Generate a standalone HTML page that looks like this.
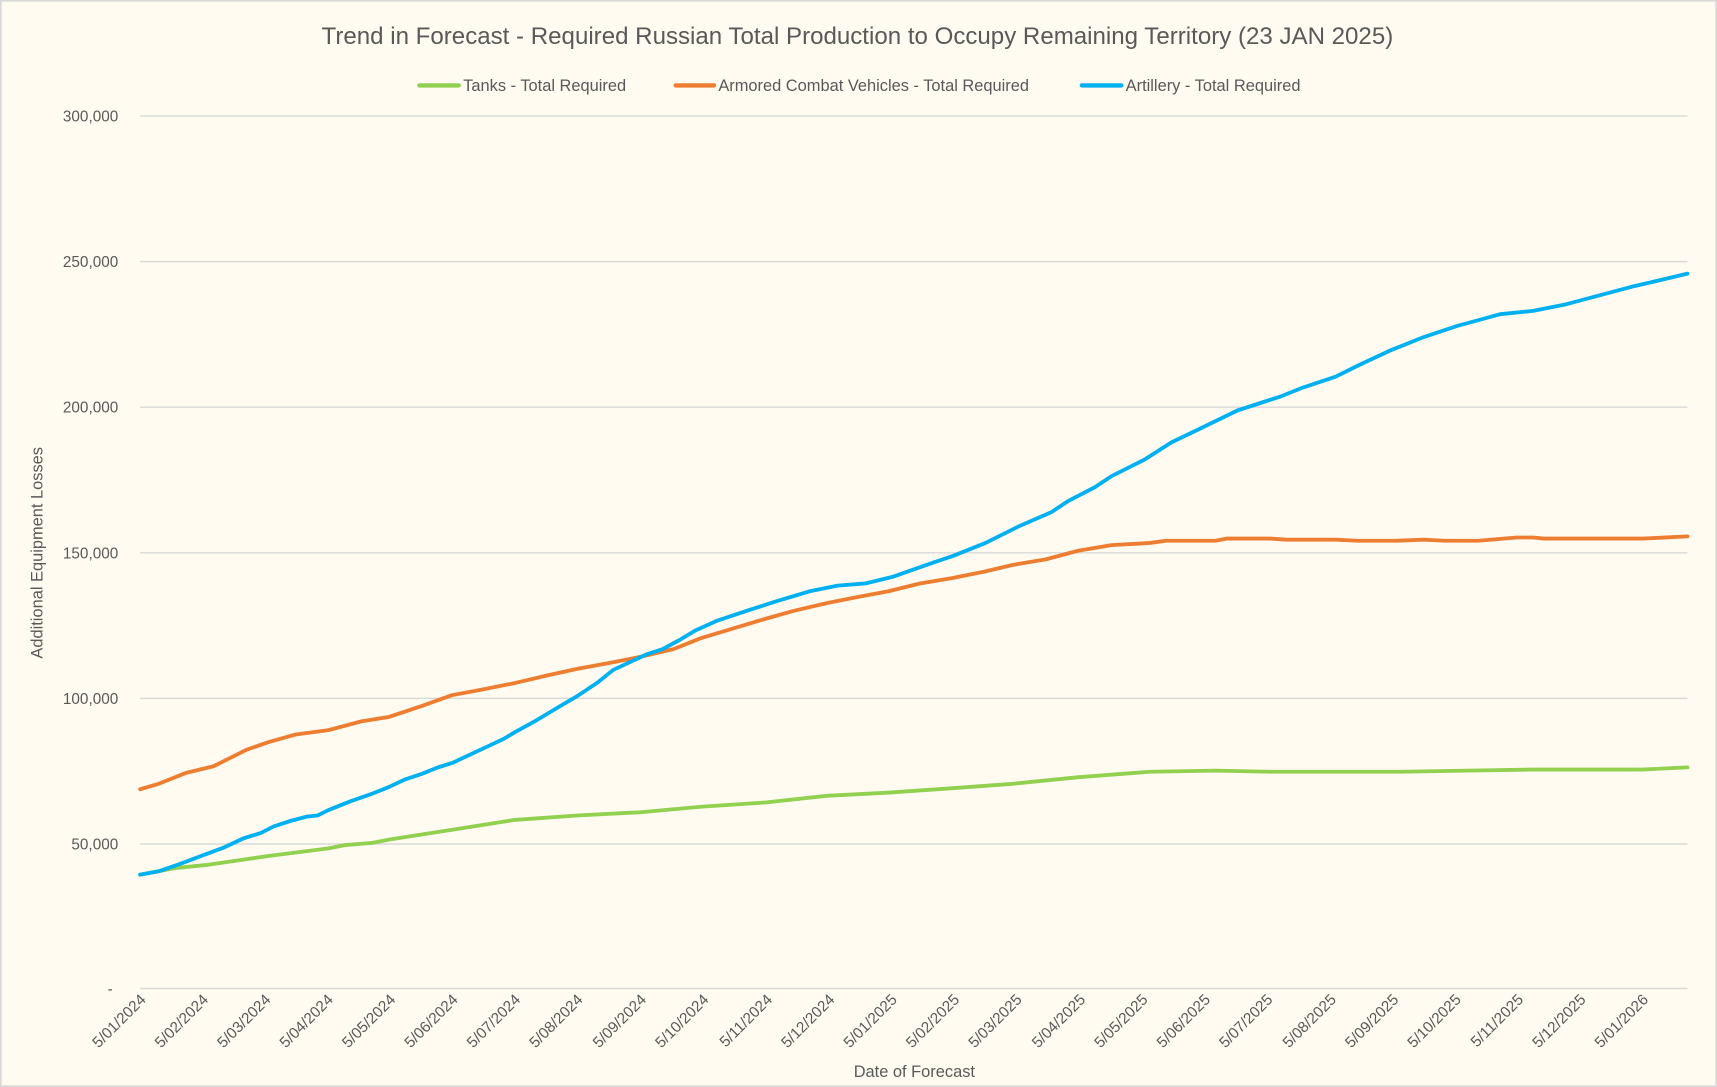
<!DOCTYPE html>
<html><head><meta charset="utf-8"><style>
html,body{margin:0;padding:0;background:#fffbf0;}
svg{display:block;font-family:"Liberation Sans Narrow","Liberation Sans",sans-serif;}
</style></head><body>
<svg width="1717" height="1087" viewBox="0 0 1568 993" preserveAspectRatio="none">
<rect x="0.5" y="0.5" width="1567" height="992" fill="#fffbf0" stroke="#d9d9d9" stroke-width="2"/>
<text x="783" y="40" text-anchor="middle" font-size="22" fill="#595959">Trend in Forecast - Required Russian Total Production to Occupy Remaining Territory (23 JAN 2025)</text>
<g font-size="15" fill="#595959">
<line x1="383" y1="78" x2="419" y2="78" stroke="#92d050" stroke-width="4" stroke-linecap="round"/>
<text x="423" y="83">Tanks - Total Required</text>
<line x1="617" y1="78" x2="652" y2="78" stroke="#ed7d31" stroke-width="4" stroke-linecap="round"/>
<text x="656" y="83">Armored Combat Vehicles - Total Required</text>
<line x1="988" y1="78" x2="1024" y2="78" stroke="#00b0f0" stroke-width="4" stroke-linecap="round"/>
<text x="1028" y="83">Artillery - Total Required</text>
</g>
<g stroke="#d9d9d9" stroke-width="1.3">
<line x1="128" y1="106" x2="1541" y2="106"/><line x1="128" y1="239" x2="1541" y2="239"/>
<line x1="128" y1="372" x2="1541" y2="372"/><line x1="128" y1="505" x2="1541" y2="505"/>
<line x1="128" y1="638" x2="1541" y2="638"/><line x1="128" y1="771" x2="1541" y2="771"/>
<line x1="128" y1="903" x2="1541" y2="903"/>
</g>
<g font-size="14" fill="#595959" text-anchor="end">
<text x="108" y="111">300,000</text><text x="108" y="244">250,000</text><text x="108" y="377">200,000</text>
<text x="108" y="510">150,000</text><text x="108" y="643">100,000</text><text x="108" y="776">50,000</text>
<text x="103" y="908">-</text>
</g>
<text transform="translate(39,505) rotate(-90)" text-anchor="middle" font-size="15" fill="#595959">Additional Equipment Losses</text>
<text x="835" y="984" text-anchor="middle" font-size="15" fill="#595959">Date of Forecast</text>
<g font-size="14" fill="#595959" text-anchor="end" font-family="Liberation Sans,sans-serif">
<text transform="translate(134,914) rotate(-45)">5/01/2024</text>
<text transform="translate(191,914) rotate(-45)">5/02/2024</text>
<text transform="translate(248,914) rotate(-45)">5/03/2024</text>
<text transform="translate(305,914) rotate(-45)">5/04/2024</text>
<text transform="translate(362,914) rotate(-45)">5/05/2024</text>
<text transform="translate(419,914) rotate(-45)">5/06/2024</text>
<text transform="translate(476,914) rotate(-45)">5/07/2024</text>
<text transform="translate(533,914) rotate(-45)">5/08/2024</text>
<text transform="translate(591,914) rotate(-45)">5/09/2024</text>
<text transform="translate(648,914) rotate(-45)">5/10/2024</text>
<text transform="translate(706,914) rotate(-45)">5/11/2024</text>
<text transform="translate(763,914) rotate(-45)">5/12/2024</text>
<text transform="translate(820,914) rotate(-45)">5/01/2025</text>
<text transform="translate(877,914) rotate(-45)">5/02/2025</text>
<text transform="translate(934,914) rotate(-45)">5/03/2025</text>
<text transform="translate(992,914) rotate(-45)">5/04/2025</text>
<text transform="translate(1049,914) rotate(-45)">5/05/2025</text>
<text transform="translate(1106,914) rotate(-45)">5/06/2025</text>
<text transform="translate(1163,914) rotate(-45)">5/07/2025</text>
<text transform="translate(1221,914) rotate(-45)">5/08/2025</text>
<text transform="translate(1278,914) rotate(-45)">5/09/2025</text>
<text transform="translate(1335,914) rotate(-45)">5/10/2025</text>
<text transform="translate(1392,914) rotate(-45)">5/11/2025</text>
<text transform="translate(1449,914) rotate(-45)">5/12/2025</text>
<text transform="translate(1506,914) rotate(-45)">5/01/2026</text>
</g>
<g fill="none" stroke-width="3.5" stroke-linejoin="round" stroke-linecap="round">
<polyline stroke="#92d050" points="128,799 160,793 190,790 245,782 300,775 315,772 340,770 355,767 413,758 470,749 527,745 585,742 640,737 700,733 755,727 812,724 870,720 925,716 985,710 1050,705 1110,704 1160,705 1220,705 1280,705 1340,704 1400,703 1500,703 1541,701"/>
<polyline stroke="#ed7d31" points="128,721 145,716 170,706 195,700 215,690 225,685 245,678 270,671 300,667 330,659 355,655 385,645 413,635 440,630 470,624 500,617 527,611 560,605 585,600 615,593 640,583 670,574 700,565 725,558 755,551 785,545 812,540 840,533 870,528 900,522 925,516 955,511 985,503 1015,498 1050,496 1065,494 1110,494 1120,492 1160,492 1175,493 1220,493 1240,494 1275,494 1300,493 1320,494 1350,494 1385,491 1400,491 1410,492 1500,492 1541,490"/>
<polyline stroke="#00b0f0" points="128,799 145,796 165,789 189,780 205,774 222,766 238,761 250,755 265,750 280,746 290,745 300,740 320,732 340,725 355,719 370,712 385,707 400,701 413,697 430,689 445,682 460,675 470,669 490,658 510,646 527,636 545,624 560,612 575,605 590,598 605,593 620,585 635,576 655,567 685,557 710,549 740,540 765,535 790,533 815,527 835,520 855,513 870,508 900,496 930,481 960,468 975,458 1000,445 1015,435 1045,420 1070,404 1095,392 1130,375 1170,362 1190,354 1220,344 1240,334 1270,320 1300,308 1330,298 1370,287 1400,284 1430,278 1460,270 1490,262 1520,255 1541,250"/>
</g>
</svg>
</body></html>
